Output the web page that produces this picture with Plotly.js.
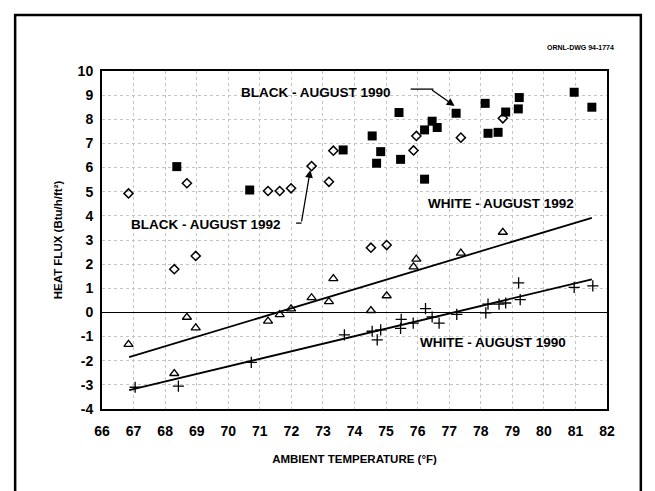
<!DOCTYPE html>
<html>
<head>
<meta charset="utf-8">
<script src="https://cdn.plot.ly/plotly-3.0.1.min.js"></script>
<style>html,body{margin:0;padding:0;background:#fff;}#chart{width:655px;height:491px;}</style>
</head>
<body>
<div id="chart"></div>
<script>
// Black roof, August 1990 (filled squares)
const black1990X = [68.37, 70.68, 73.64, 74.56, 74.70, 74.83, 75.41, 75.46, 76.22, 76.22, 76.46, 76.62, 77.22, 78.14, 78.23, 78.55, 78.79, 79.19, 79.22, 80.96, 81.52];
const black1990Y = [6.04, 5.07, 6.73, 7.31, 6.18, 6.66, 8.28, 6.34, 5.52, 7.56, 7.92, 7.66, 8.25, 8.66, 7.42, 7.46, 8.30, 8.43, 8.90, 9.12, 8.50];
// Black roof, August 1992 (open diamonds)
const black1992X = [66.84, 68.29, 68.69, 68.97, 71.26, 71.63, 71.99, 72.64, 73.19, 73.33, 74.52, 75.02, 75.87, 75.96, 77.37, 78.70];
const black1992Y = [4.93, 1.79, 5.35, 2.34, 5.03, 5.03, 5.14, 6.06, 5.41, 6.70, 2.68, 2.79, 6.71, 7.31, 7.24, 8.04];
// White roof, August 1992 (open triangles)
const white1992X = [66.84, 68.29, 68.69, 68.97, 71.26, 71.63, 71.99, 72.64, 73.19, 73.33, 74.52, 75.02, 75.87, 75.96, 77.37, 78.70];
const white1992Y = [-1.32, -2.53, -0.20, -0.64, -0.36, -0.09, 0.15, 0.61, 0.45, 1.40, 0.08, 0.69, 1.89, 2.21, 2.46, 3.32];
// White roof, August 1990 (plus signs)
const white1990X = [67.05, 68.42, 70.73, 73.68, 74.56, 74.72, 74.83, 75.46, 75.48, 75.86, 76.25, 76.46, 76.68, 77.24, 78.16, 78.23, 78.58, 78.79, 79.20, 79.25, 80.96, 81.55];
const white1990Y = [-3.10, -3.05, -2.07, -0.93, -0.78, -1.14, -0.72, -0.66, -0.29, -0.44, 0.16, -0.19, -0.44, -0.08, -0.02, 0.34, 0.34, 0.39, 1.22, 0.53, 1.04, 1.10];
// Fitted lines for the white roof
const fit1992X = [66.86, 81.52];
const fit1992Y = [-1.85, 3.92];
const fit1990X = [66.86, 81.52];
const fit1990Y = [-3.22, 1.37];
// Axis ticks
const xTicks = [66, 67, 68, 69, 70, 71, 72, 73, 74, 75, 76, 77, 78, 79, 80, 81, 82];
const yTicks = [-4, -3, -2, -1, 0, 1, 2, 3, 4, 5, 6, 7, 8, 9, 10];

const FONT = "Liberation Sans, Arial, sans-serif";

const traces = [
  {x: fit1992X, y: fit1992Y, mode: 'lines', line: {color: '#000', width: 1.8}, hoverinfo: 'skip'},
  {x: fit1990X, y: fit1990Y, mode: 'lines', line: {color: '#000', width: 1.8}, hoverinfo: 'skip'},
  {x: black1990X, y: black1990Y, mode: 'markers', marker: {symbol: 'square', size: 9, color: '#000'}},
  {x: black1992X, y: black1992Y, mode: 'markers', marker: {symbol: 'diamond-open', size: 7, color: '#000', line: {width: 1.5, color: '#000'}}},
  {x: white1992X, y: white1992Y, mode: 'markers', marker: {symbol: 'triangle-up-open', size: 8, color: '#000', line: {width: 1.3, color: '#000'}}},
  {x: white1990X, y: white1990Y, mode: 'markers', marker: {symbol: 'cross-thin-open', size: 8, color: '#000', line: {width: 1.3, color: '#000'}}}
];

const lbl = (text, x, y) => ({text: text, x: x, y: y, xref: 'x', yref: 'y', showarrow: false,
  font: {family: FONT, size: 13.5, color: '#000', weight: 'bold'}});

const layout = {
  width: 655, height: 491,
  margin: {l: 102, r: 48, t: 71, b: 82},
  paper_bgcolor: '#fff', plot_bgcolor: '#fff',
  showlegend: false,
  font: {family: FONT, color: '#000'},
  xaxis: {
    range: [66, 82], tickvals: xTicks, ticktext: xTicks.map(String),
    showline: true, linecolor: '#000', linewidth: 2, mirror: true,
    ticks: '', showgrid: true, gridcolor: '#c4c4c4', griddash: 'dot', gridwidth: 1,
    zeroline: false, ticklabelstandoff: 8,
    tickfont: {family: FONT, size: 14, weight: 'bold', color: '#000'},
    title: {text: 'AMBIENT TEMPERATURE (°F)', font: {family: FONT, size: 11.5, weight: 'bold', color: '#000'}, standoff: 17}
  },
  yaxis: {
    range: [-4, 10], tickvals: yTicks, ticktext: yTicks.map(String),
    showline: true, linecolor: '#000', linewidth: 2, mirror: true,
    ticks: '', showgrid: true, gridcolor: '#c4c4c4', griddash: 'dot', gridwidth: 1,
    zeroline: true, zerolinecolor: '#000', zerolinewidth: 1.6, ticklabelstandoff: 4,
    tickfont: {family: FONT, size: 14, weight: 'bold', color: '#000'},
    title: {text: 'HEAT FLUX (Btu/h/ft²)', font: {family: FONT, size: 11.5, weight: 'bold', color: '#000'}, standoff: 13}
  },
  shapes: [
    {type: 'rect', xref: 'paper', yref: 'paper', x0: -0.172, x1: 1.067, y0: -0.4, y1: 1.166,
     line: {color: '#000', width: 2.5}, fillcolor: 'rgba(0,0,0,0)'},
    {type: 'line', xref: 'x', yref: 'y', x0: 75.78, x1: 76.5, y0: 9.25, y1: 9.25, line: {color: '#000', width: 1.3}},
    {type: 'line', xref: 'x', yref: 'y', x0: 72.15, x1: 72.32, y0: 3.7, y1: 3.7, line: {color: '#000', width: 1.3}}
  ],
  annotations: [
    lbl('BLACK - AUGUST 1990', 72.79, 9.13),
    lbl('BLACK - AUGUST 1992', 69.3, 3.66),
    lbl('WHITE - AUGUST 1992', 78.63, 4.53),
    lbl('WHITE - AUGUST 1990', 78.38, -1.23),
    {text: '', x: 77.17, y: 8.55, xref: 'x', yref: 'y', showarrow: true, arrowhead: 2, arrowsize: 1.2, arrowwidth: 1.3,
     arrowcolor: '#000', ax: -24, ay: -17},
    {text: '', x: 72.6, y: 5.9, xref: 'x', yref: 'y', showarrow: true, arrowhead: 2, arrowsize: 1.2, arrowwidth: 1.3,
     arrowcolor: '#000', ax: -9, ay: 53},
    {text: 'ORNL-DWG 94-1774', xref: 'paper', yref: 'paper', x: 0.948, y: 1.071, xanchor: 'center', yanchor: 'middle',
     showarrow: false, font: {family: FONT, size: 7, weight: 'bold', color: '#000'}}
  ]
};

Plotly.newPlot('chart', traces, layout, {staticPlot: true, displayModeBar: false});
</script>
</body>
</html>
